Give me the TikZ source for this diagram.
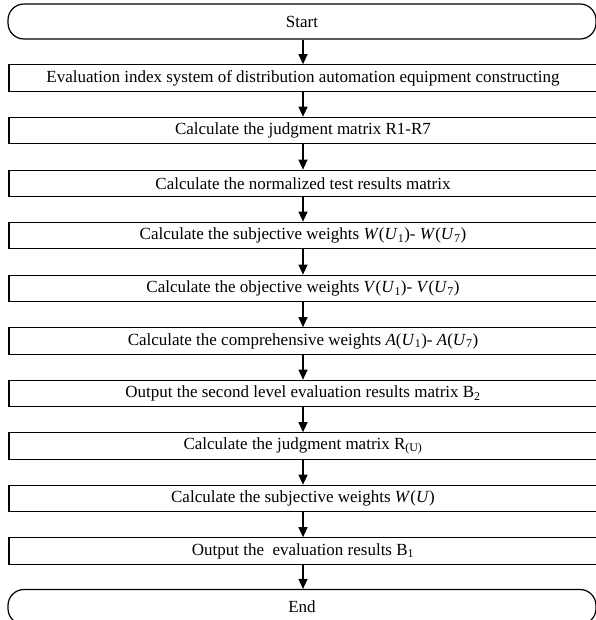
\documentclass[tikz,border=0pt]{standalone}
\usepackage{fontspec}
\setmainfont{Liberation Serif}
\usetikzlibrary{arrows.meta}
\begin{document}
\begin{tikzpicture}[x=1pt,y=-1pt,
  stepbox/.style={draw,line width=1.2pt,minimum width=588pt,minimum height=26.5pt,inner sep=0pt,font=\fontsize{17}{18}\selectfont},
  termbox/.style={draw,line width=1.2pt,rounded corners=16pt,minimum width=588pt,minimum height=35pt,inner sep=0pt,font=\fontsize{17}{18}\selectfont},
  flow/.style={line width=1.2pt,-{Triangle[length=10pt,width=9pt]}}]
\useasboundingbox (0,0) rectangle (595,620);
\node[termbox] (s) at (302,21.5) {Start};
\node[stepbox] (b1) at (303,78) {Evaluation index system of distribution automation equipment constructing};
\node[stepbox] (b2) at (303,130.5) {Calculate the judgment matrix R1-R7};
\node[stepbox] (b3) at (303,183.5) {Calculate the normalized test results matrix};
\node[stepbox] (b4) at (303,235.5) {Calculate the subjective weights \textit{W}(\textit{U}\textsubscript{1})- \textit{W}(\textit{U}\textsubscript{7})};
\node[stepbox] (b5) at (303,288.5) {Calculate the objective weights \textit{V}(\textit{U}\textsubscript{1})- \textit{V}(\textit{U}\textsubscript{7})};
\node[stepbox] (b6) at (303,341) {Calculate the comprehensive weights \textit{A}(\textit{U}\textsubscript{1})- \textit{A}(\textit{U}\textsubscript{7})};
\node[stepbox] (b7) at (303,393.5) {Output the second level evaluation results matrix B\textsubscript{2}};
\node[stepbox] (b8) at (303,446) {Calculate the judgment matrix R\textsubscript{(U)}};
\node[stepbox] (b9) at (303,498.5) {Calculate the subjective weights \textit{W}(\textit{U})};
\node[stepbox] (b10) at (303,551) {Output the\ \ evaluation results B\textsubscript{1}};
\node[termbox] (e) at (302,607) {End};
\foreach \a/\b in {s/b1,b1/b2,b2/b3,b3/b4,b4/b5,b5/b6,b6/b7,b7/b8,b8/b9,b9/b10,b10/e}
  \draw[flow] (\a.south -| 303,0) -- (\b.north -| 303,0);
\end{tikzpicture}
\end{document}
